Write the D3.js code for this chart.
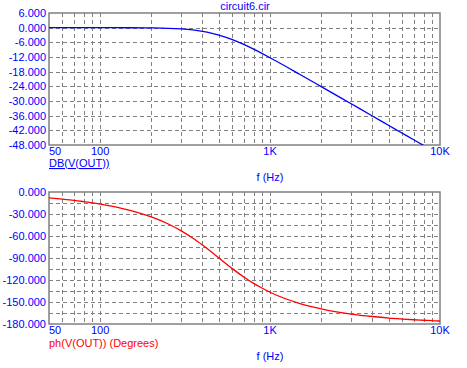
<!DOCTYPE html>
<html>
<head>
<meta charset="utf-8">
<script src="https://cdn.jsdelivr.net/npm/d3@7"></script>
<style>
  body { margin: 0; background: #fff; }
  svg { display: block; }
  text { font-family: "Liberation Sans", Arial, sans-serif; }
</style>
</head>
<body>
<svg id="chart"></svg>
<script>
// frequency points (Hz)
var freqs = [50, 60, 70, 80, 90, 100, 150, 200, 250, 300, 350, 400, 450, 500, 600, 700, 800, 900,
             1000, 1500, 2000, 3000, 4000, 5000, 6000, 7000, 8000, 9000, 10000]
// DB(V(OUT))
var magDb = [0, 0, 0, 0, 0, -0.01, -0.04, -0.11, -0.26, -0.53, -0.93, -1.49, -2.19, -3.01, -4.88, -6.85, -8.78, -10.61,
             -12.3, -19.14, -24.1, -31.13, -36.12, -40.0, -43.17, -45.85, -48.16, -50.21, -52.04]
// ph(V(OUT)) degrees
var phaseDeg = [-8.1, -9.8, -11.4, -13.1, -14.7, -16.4, -25.0, -34.0, -43.3, -53.0, -62.7, -72.4, -81.5, -90, -104.5, -115.9, -124.6, -131.3,
                -136.7, -152.1, -159.3, -166.4, -169.8, -171.9, -173.2, -174.2, -174.9, -175.5, -175.9]

var magTicks = [6, 0, -6, -12, -18, -24, -30, -36, -42, -48]
var phaseTicks = [0, -30, -60, -90, -120, -150, -180]
var phaseGrid = [-15, -30, -45, -60, -75, -90, -105, -120, -135, -150, -165]
var freqLabels = [[50, "50"], [100, "100"], [1000, "1K"], [10000, "10K"]]
var freqGrid = [60, 70, 80, 90, 100, 200, 300, 400, 500, 600, 700, 800, 900,
                1000, 2000, 3000, 4000, 5000, 6000, 7000, 8000, 9000]

var dimensions = {
    width: 467,
    height: 368,
    left: 49,
    right: 440
}
var panels = [
    {top: 13, bottom: 145, domain: [6, -48], ticks: magTicks, grid: magTicks.slice(1, -1),
     values: magDb, color: "#0000ff", label: "DB(V(OUT))", underline: true, labelY: 167, fY: 181},
    {top: 192, bottom: 324, domain: [0, -180], ticks: phaseTicks, grid: phaseGrid,
     values: phaseDeg, color: "#ff0000", label: "ph(V(OUT)) (Degrees)", underline: false, labelY: 347, fY: 360}
]

var svg = d3.select("#chart")
    .attr("width", dimensions.width)
    .attr("height", dimensions.height)

var xScale = d3.scaleLog()
    .domain([50, 10000])
    .range([dimensions.left, dimensions.right])

svg.append("text")
    .attr("x", 245)
    .attr("y", 10)
    .attr("text-anchor", "middle")
    .attr("fill", "#0000ff")
    .style("font-size", "11px")
    .text("circuit6.cir")

panels.forEach(function (p, i) {
    var yScale = d3.scaleLinear().domain(p.domain).range([p.top, p.bottom])
    var g = svg.append("g")

    g.append("clipPath").attr("id", "clip" + i)
        .append("rect")
        .attr("x", dimensions.left).attr("y", p.top)
        .attr("width", dimensions.right - dimensions.left).attr("height", p.bottom - p.top)

    // dashed grid
    g.selectAll(".vg").data(freqGrid).enter().append("line")
        .attr("x1", d => Math.round(xScale(d)) + 0.5).attr("x2", d => Math.round(xScale(d)) + 0.5)
        .attr("y1", p.top).attr("y2", p.bottom)
        .attr("stroke", "#808080").attr("stroke-dasharray", "4,3")
    g.selectAll(".hg").data(p.grid).enter().append("line")
        .attr("y1", d => Math.round(yScale(d)) + 0.5).attr("y2", d => Math.round(yScale(d)) + 0.5)
        .attr("x1", dimensions.left).attr("x2", dimensions.right)
        .attr("stroke", "#808080").attr("stroke-dasharray", "4,3")

    g.append("rect")
        .attr("x", dimensions.left).attr("y", p.top)
        .attr("width", dimensions.right - dimensions.left).attr("height", p.bottom - p.top)
        .attr("fill", "none").attr("stroke", "#808080").attr("stroke-width", 1.5)

    var line = d3.line()
        .x((d, k) => xScale(freqs[k]))
        .y(d => yScale(d))
        .curve(d3.curveMonotoneX)
    g.append("path")
        .datum(p.values)
        .attr("clip-path", "url(#clip" + i + ")")
        .attr("d", line)
        .attr("fill", "none")
        .attr("stroke", p.color)
        .attr("stroke-width", 1.3)

    // y axis labels
    var yAxis = d3.axisLeft(yScale).tickValues(p.ticks).tickSize(0).tickPadding(3)
        .tickFormat(d => d.toFixed(3))
    g.append("g").attr("transform", `translate(${dimensions.left},0)`)
        .call(yAxis)
        .call(a => a.select(".domain").remove())
        .selectAll("text")
        .attr("fill", "#0000ff")
        .style("font-family", '"Liberation Sans", Arial, sans-serif')
        .style("font-size", "11px")

    // x axis labels
    g.selectAll(".xl").data(freqLabels).enter().append("text")
        .attr("x", d => xScale(d[0]))
        .attr("y", p.bottom + 10)
        .attr("text-anchor", d => d[0] == 50 ? "start" : "middle")
        .attr("fill", "#0000ff")
        .style("font-size", "11px")
        .text(d => d[1])

    g.append("text")
        .attr("x", dimensions.left)
        .attr("y", p.labelY)
        .attr("fill", p.color)
        .attr("text-decoration", p.underline ? "underline" : null)
        .style("font-size", "11px")
        .text(p.label)

    g.append("text")
        .attr("x", 270)
        .attr("y", p.fY)
        .attr("text-anchor", "middle")
        .attr("fill", "#0000ff")
        .style("font-size", "11px")
        .text("f (Hz)")
})
</script>
</body>
</html>
